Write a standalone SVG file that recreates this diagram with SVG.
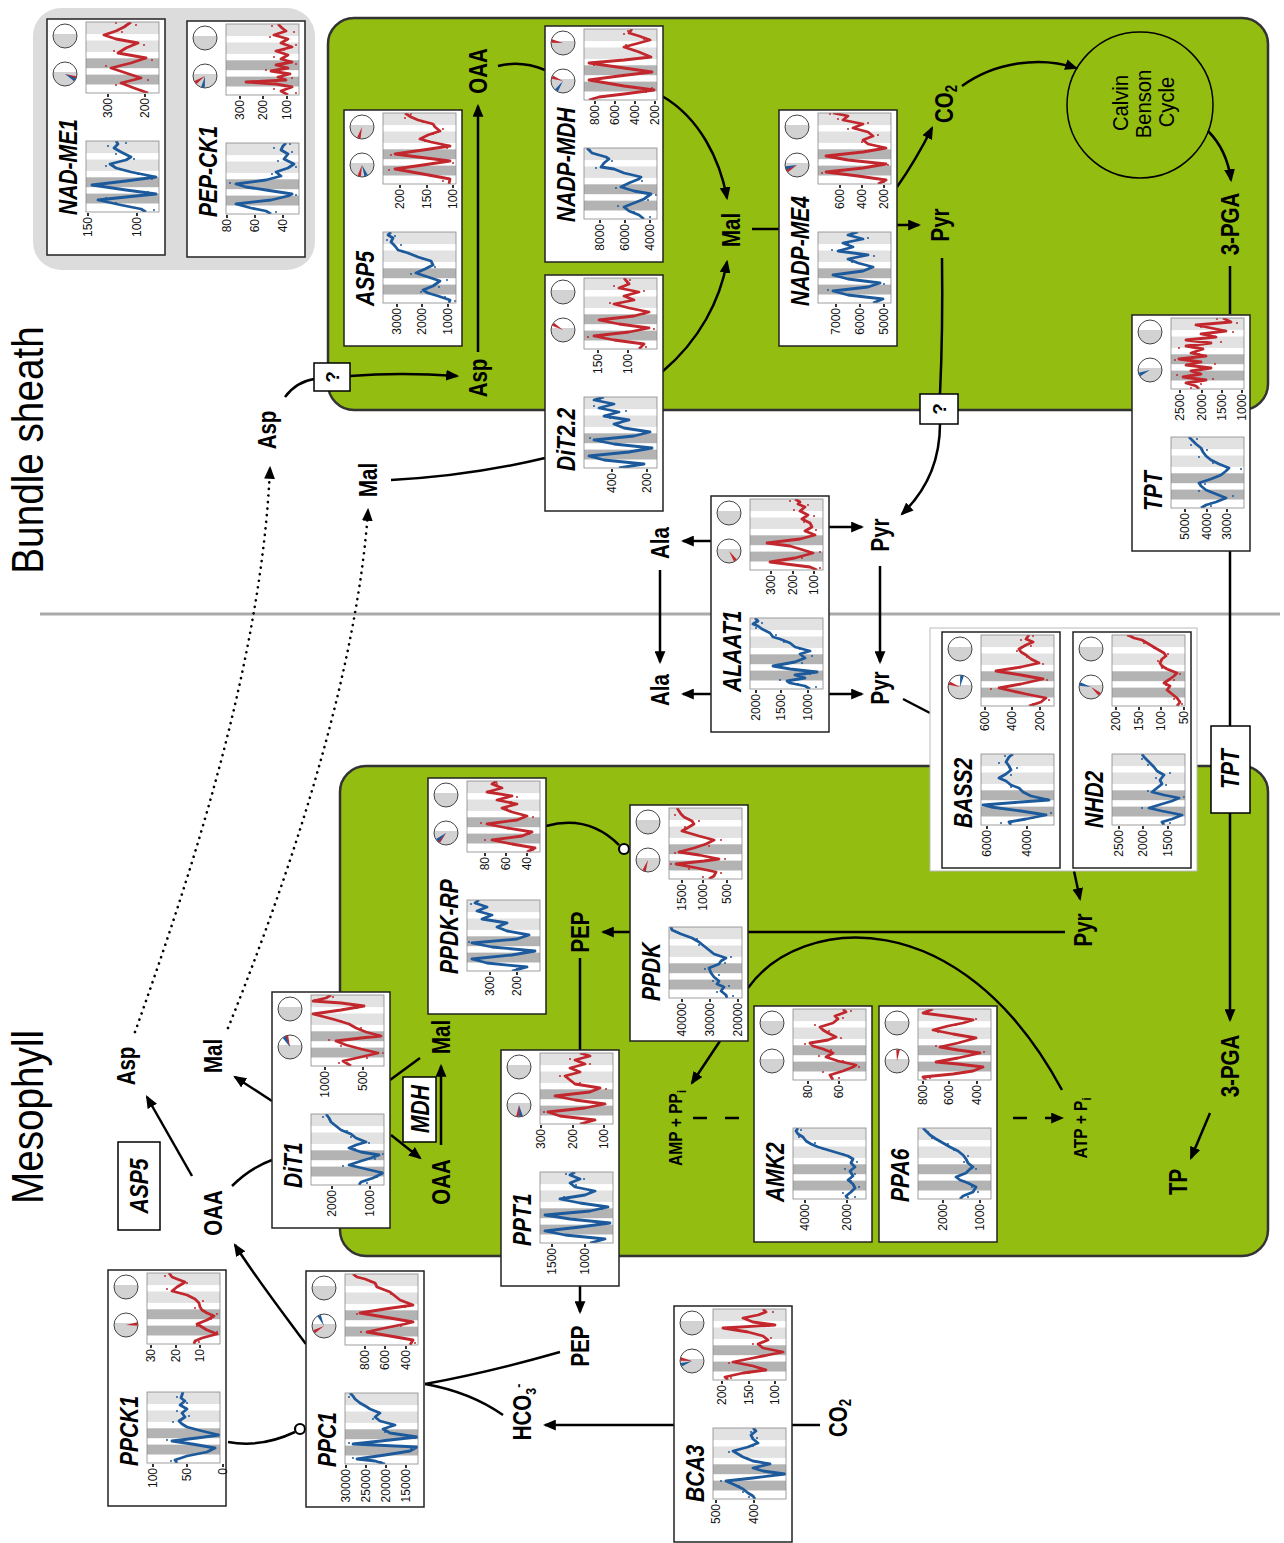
<svg xmlns="http://www.w3.org/2000/svg" xmlns:xlink="http://www.w3.org/1999/xlink" width="1284" height="1543" viewBox="0 0 1284 1543">
<style>
.pb{fill:#fff;stroke:#222;stroke-width:1.5}
.gn{font-family:"Liberation Sans",Arial,Helvetica,sans-serif;font-weight:bold;font-style:italic;font-size:26px}
.gc{font-family:"Liberation Sans",Arial,Helvetica,sans-serif;font-weight:bold;font-style:italic;font-size:26px;text-anchor:middle}
.tk{font-family:"Liberation Sans",Arial,Helvetica,sans-serif;font-size:12px;text-anchor:end;fill:#111}
.tm{stroke:#000;stroke-width:1.6;fill:none}
.cf{fill:none;stroke:#888;stroke-width:0.8}
.rl{fill:none;stroke:#c1272d;stroke-width:2.8;stroke-linejoin:round}
.bl{fill:none;stroke:#1d5a9c;stroke-width:2.8;stroke-linejoin:round}
.rd{fill:none;stroke:#c1272d;stroke-width:2;stroke-linecap:round}
.bd{fill:none;stroke:#1d5a9c;stroke-width:2;stroke-linecap:round}
.nr{fill:#c1272d}
.nb{fill:#1d5a9c}
.m{font-family:"Liberation Sans",Arial,Helvetica,sans-serif;font-weight:bold;font-size:25px;text-anchor:middle}
.s{font-family:"Liberation Sans",Arial,Helvetica,sans-serif;font-weight:bold;font-size:19px;text-anchor:middle}
.cb{font-family:"Liberation Sans",Arial,Helvetica,sans-serif;font-size:22px;text-anchor:middle}
.big{font-family:"Liberation Sans",Arial,Helvetica,sans-serif;font-size:45px;text-anchor:middle}
.c{fill:none;stroke:#000;stroke-width:2.5}
.ca{fill:none;stroke:#000;stroke-width:2.5;marker-end:url(#ah)}
.dt{fill:none;stroke:#000;stroke-width:2.6;stroke-linecap:round;stroke-dasharray:0.1 6.5;marker-end:url(#ah)}
.dsh{fill:none;stroke:#000;stroke-width:2.5;stroke-dasharray:14 18;marker-end:url(#ah)}
.bx{fill:#fff;stroke:#000;stroke-width:1.5}
.inh{fill:#fff;stroke:#000;stroke-width:2.2}
</style>
<defs>
<marker id="ah" viewBox="0 0 12 10" refX="10" refY="5" markerWidth="13" markerHeight="11" markerUnits="userSpaceOnUse" orient="auto"><path d="M0,0L12,5L0,10Z" fill="#000"/></marker>
<clipPath id="cc"><rect width="71" height="73"/></clipPath>
<g id="bg"><rect width="71" height="73" fill="#fff"/><rect x="8.5" width="9.9" height="73" fill="#b3b3b3"/><rect x="24.8" width="9.9" height="73" fill="#b3b3b3"/><rect x="41.1" width="11.4" height="73" fill="#e2e2e2"/><rect x="58.9" width="12.1" height="73" fill="#e2e2e2"/></g>
<g id="pie"><circle r="12" fill="#fff"/><path d="M-11.83,-2A12,12 0 1,0 11.83,-2Z" fill="#d2d2d2"/><circle r="12" fill="none" stroke="#444" stroke-width="1"/></g>
<path id="nd" d="M0,0L11.5,-1.8L11.5,1.8Z"/>
</defs>

<rect width="1284" height="1543" fill="#fff"/>
<g id="areas">
<rect x="33" y="8" width="282" height="262" rx="28" fill="#dcdcdc"/>
<rect x="328" y="18" width="940" height="392" rx="26" fill="#93bd10" stroke="#333" stroke-width="2.5"/>
<rect x="340" y="766" width="928" height="490" rx="26" fill="#93bd10" stroke="#333" stroke-width="2.5"/>
<line x1="40" y1="614" x2="1280" y2="614" stroke="#aaa" stroke-width="3"/>
</g>

<g id="connectors">
<path class="c" d="M498,66 Q521,60 545,70"/>
<path class="ca" d="M662,96 C700,118 720,160 727,198"/>
<path class="ca" d="M478,352 V106"/>
<path class="c" d="M285,397 Q296,382 314,379"/>
<path class="ca" d="M350,376 Q400,372 457,376"/>
<path class="c" d="M391,480 Q470,476 545,458"/>
<path class="ca" d="M662,372 C700,340 720,300 727,262"/>
<path class="c" d="M752,229 H779"/>
<path class="ca" d="M897,187 Q916,160 932,128"/>
<path class="ca" d="M897,225 H919"/>
<path class="ca" d="M962,86 C995,62 1040,56 1076,68"/>
<path class="ca" d="M1208,131 Q1227,150 1231,180"/>
<path class="c" d="M1230,266 V314"/>
<path class="c" d="M1230,551 V727"/>
<path class="ca" d="M1230,813 V1020"/>
<path class="ca" d="M1210,1113 L1191,1158"/>
<path class="c" d="M942,258 Q943,330 940,394"/>
<path class="ca" d="M940,424 C940,462 925,492 902,514"/>
<path class="ca" d="M711,541 H683"/>
<path class="ca" d="M829,527 H862"/>
<path class="ca" d="M660,570 V662"/>
<path class="ca" d="M880,566 V662"/>
<path class="ca" d="M711,694 H683"/>
<path class="ca" d="M829,694 H862"/>
<path class="c" d="M903,699 L930,713"/>
<path class="ca" d="M1074,871 L1080,899"/>
<path class="ca" d="M1065,932 H603"/>
<path class="c" d="M748,988 C800,915 960,900 1062,1090"/>
<path class="ca" d="M720,1041 L692,1083"/>
<path class="dsh" d="M693,1118 H1062"/>
<path class="c" d="M546,826 C575,818 600,826 619,845"/>
<circle class="inh" cx="624" cy="849" r="5"/>
<path class="c" d="M580,958 V1050"/>
<path class="ca" d="M580,1286 V1312"/>
<path class="c" d="M560,1352 Q490,1372 425,1384"/>
<path class="c" d="M503,1415 Q470,1392 425,1384"/>
<path class="c" d="M820,1425 H792"/>
<path class="ca" d="M674,1425 H545"/>
<path class="c" d="M228,1442 C255,1447 278,1440 295,1432"/>
<circle class="inh" cx="300" cy="1429" r="5"/>
<path class="ca" d="M306,1344 C282,1312 256,1278 235,1245"/>
<path class="ca" d="M192,1176 L147,1097"/>
<path class="c" d="M232,1186 Q250,1168 272,1160"/>
<path class="ca" d="M272,1101 L235,1077"/>
<path class="c" d="M390,1080 L420,1058"/>
<path class="ca" d="M391,1135 L420,1158"/>
<path class="ca" d="M441,1145 V1066"/>
<path class="dt" d="M135,1032 C200,850 262,650 270,468"/>
<path class="dt" d="M228,1028 C300,850 358,660 368,510"/>
</g>

<g id="node-nadme1" transform="translate(47,255) rotate(-90)">
<rect class="pb" width="236" height="118"/>
<text class="gn" transform="translate(40,30) scale(.81,1)">NAD-ME1</text>
<g transform="translate(219,18) rotate(90)"><use href="#pie"/></g>
<g transform="translate(181,18) rotate(90)"><use href="#pie"/><use href="#nd" class="nr" transform="rotate(20)"/><use href="#nd" class="nb" transform="rotate(30)"/></g>
<g transform="translate(43,39)"><use href="#bg"/><g clip-path="url(#cc)"><polyline class="bl" points="0,60 3,55 7,35 12,12 15,40 18,70 22,40 27,6 31,40 35,70 40,45 44,30 48,24 52,40 55,45 60,35 64,28 68,32 71,30"/><path class="bd" d="M2,68h0M9,30h0M14,20h0M20,62h0M26,12h0M33,66h0M38,52h0M46,20h0M53,48h0M58,30h0M66,22h0M69,40h0"/></g><rect class="cf" width="71" height="73"/></g>
<g transform="translate(162,39)"><use href="#bg"/><g clip-path="url(#cc)"><polyline class="rl" points="0,62 5,48 10,35 15,55 20,40 25,25 30,45 35,60 40,32 45,40 50,52 54,30 58,18 62,30 66,38 71,45"/><path class="rd" d="M3,55h0M8,30h0M13,62h0M22,34h0M27,20h0M33,66h0M42,28h0M48,58h0M56,24h0M61,36h0M68,50h0M70,30h0"/></g><rect class="cf" width="71" height="73"/></g>
<text class="tk" x="38" y="45">150</text><text class="tk" x="38" y="94">100</text>
<text class="tk" x="157" y="65">300</text><text class="tk" x="157" y="102">200</text>
<path class="tm" d="M39,41h3M39,90h3M158,61h3M158,98h3"/>
</g>

<g id="node-pepck1" transform="translate(187,257) rotate(-90)">
<rect class="pb" width="236" height="118"/>
<text class="gn" transform="translate(40,30) scale(.81,1)">PEP-CK1</text>
<g transform="translate(219,18) rotate(90)"><use href="#pie"/></g>
<g transform="translate(181,18) rotate(90)"><use href="#pie"/><use href="#nd" class="nr" transform="rotate(146)"/><use href="#nd" class="nb" transform="rotate(100)"/></g>
<g transform="translate(43,39)"><use href="#bg"/><g clip-path="url(#cc)"><polyline class="bl" points="0,45 3,40 6,25 10,10 14,45 18,62 20,66 24,40 27,20 30,10 34,40 38,55 42,50 46,62 50,68 55,58 60,62 64,55 68,57 71,60"/><path class="bd" d="M2,50h0M8,18h0M12,30h0M19,70h0M26,28h0M31,4h0M40,46h0M47,70h0M53,52h0M62,66h0M66,48h0M70,64h0"/></g><rect class="cf" width="71" height="73"/></g>
<g transform="translate(162,39)"><use href="#bg"/><g clip-path="url(#cc)"><polyline class="rl" points="0,62 4,55 8,66 11,50 13,20 15,60 18,52 21,64 24,45 27,62 30,50 33,66 36,55 40,62 44,50 48,66 52,55 56,62 60,48 64,60 67,56 71,52"/><path class="rd" d="M2,70h0M6,48h0M12,28h0M17,66h0M25,40h0M31,70h0M38,48h0M45,58h0M50,70h0M58,44h0M63,68h0M69,46h0"/></g><rect class="cf" width="71" height="73"/></g>
<text class="tk" x="38" y="44">80</text><text class="tk" x="38" y="72">60</text><text class="tk" x="38" y="100">40</text>
<text class="tk" x="157" y="57">300</text><text class="tk" x="157" y="80">200</text><text class="tk" x="157" y="104">100</text>
<path class="tm" d="M39,40h3M39,68h3M39,96h3M158,53h3M158,76h3M158,100h3"/>
</g>

<g id="node-asp5" transform="translate(344,346) rotate(-90)">
<rect class="pb" width="236" height="118"/>
<text class="gn" transform="translate(40,30) scale(.81,1)">ASP5</text>
<g transform="translate(219,18) rotate(90)"><use href="#pie"/><use href="#nd" class="nr" transform="rotate(106)"/></g>
<g transform="translate(181,18) rotate(90)"><use href="#pie"/><use href="#nd" class="nr" transform="rotate(104)"/><use href="#nd" class="nb" transform="rotate(69)"/></g>
<g transform="translate(43,39)"><use href="#bg"/><g clip-path="url(#cc)"><polyline class="bl" points="0,66 3,67 7,55 10,45 13,40 17,50 22,57 26,45 30,33 34,42 38,50 42,48 46,35 50,25 53,15 57,12 61,8 65,10 68,5 71,8"/><path class="bd" d="M2,72h0M6,62h0M11,38h0M16,56h0M23,64h0M29,28h0M36,52h0M44,40h0M51,20h0M58,18h0M63,4h0M67,12h0"/></g><rect class="cf" width="71" height="73"/></g>
<g transform="translate(162,39)"><use href="#bg"/><g clip-path="url(#cc)"><polyline class="rl" points="0,66 5,67 10,40 15,12 19,40 23,67 27,35 30,12 34,40 38,67 42,48 45,37 49,45 53,57 57,52 60,50 64,35 67,28 71,22"/><path class="rd" d="M3,60h0M8,48h0M14,6h0M21,70h0M29,8h0M36,64h0M43,42h0M50,50h0M55,60h0M62,40h0M66,22h0M70,28h0"/></g><rect class="cf" width="71" height="73"/></g>
<text class="tk" x="38" y="57">3000</text><text class="tk" x="38" y="82">2000</text><text class="tk" x="38" y="108">1000</text>
<text class="tk" x="157" y="60">200</text><text class="tk" x="157" y="87">150</text><text class="tk" x="157" y="113">100</text>
<path class="tm" d="M39,53h3M39,78h3M39,104h3M158,56h3M158,83h3M158,109h3"/>
</g>

<g id="node-nadpmdh" transform="translate(545,262) rotate(-90)">
<rect class="pb" width="236" height="118"/>
<text class="gn" transform="translate(40,30) scale(.81,1)">NADP-MDH</text>
<g transform="translate(219,18) rotate(90)"><use href="#pie"/><use href="#nd" class="nr" transform="rotate(190)"/></g>
<g transform="translate(181,18) rotate(90)"><use href="#pie"/><use href="#nd" class="nr" transform="rotate(200)"/><use href="#nd" class="nb" transform="rotate(125)"/></g>
<g transform="translate(43,39)"><use href="#bg"/><g clip-path="url(#cc)"><polyline class="bl" points="0,60 4,55 8,45 12,40 16,50 20,60 25,67 28,50 32,37 36,45 40,55 42,57 46,40 50,30 52,17 56,20 60,25 62,22 66,8 71,3"/><path class="bd" d="M2,66h0M7,50h0M13,34h0M19,64h0M24,72h0M31,32h0M38,58h0M45,46h0M51,12h0M58,28h0M64,14h0M69,6h0"/></g><rect class="cf" width="71" height="73"/></g>
<g transform="translate(162,39)"><use href="#bg"/><g clip-path="url(#cc)"><polyline class="rl" points="0,5 3,15 6,40 10,70 14,40 20,5 24,35 28,68 32,40 37,5 40,40 43,67 48,55 53,40 57,55 60,66 64,55 67,45 71,48"/><path class="rd" d="M2,10h0M8,62h0M12,68h0M19,8h0M27,64h0M35,10h0M42,62h0M50,50h0M55,42h0M61,60h0M66,40h0M69,44h0"/></g><rect class="cf" width="71" height="73"/></g>
<text class="tk" x="38" y="59">8000</text><text class="tk" x="38" y="84">6000</text><text class="tk" x="38" y="109">4000</text>
<text class="tk" x="157" y="54">800</text><text class="tk" x="157" y="74">600</text><text class="tk" x="157" y="94">400</text><text class="tk" x="157" y="114">200</text>
<path class="tm" d="M39,55h3M39,80h3M39,105h3M158,50h3M158,70h3M158,90h3M158,110h3"/>
</g>

<g id="node-dit22" transform="translate(545,511) rotate(-90)">
<rect class="pb" width="236" height="118"/>
<text class="gn" transform="translate(40,30) scale(.81,1)">DiT2.2</text>
<g transform="translate(219,18) rotate(90)"><use href="#pie"/></g>
<g transform="translate(181,18) rotate(90)"><use href="#pie"/><use href="#nd" class="nr" transform="rotate(210)"/></g>
<g transform="translate(43,39)"><use href="#bg"/><g clip-path="url(#cc)"><polyline class="bl" points="0,35 4,60 8,20 12,5 16,45 20,68 24,30 28,10 32,50 36,66 40,40 44,30 48,45 52,20 56,35 60,15 64,30 68,10 71,20"/><path class="bd" d="M2,44h0M7,28h0M13,10h0M19,62h0M26,18h0M30,6h0M37,62h0M45,36h0M50,26h0M57,42h0M62,10h0M69,16h0"/></g><rect class="cf" width="71" height="73"/></g>
<g transform="translate(162,39)"><use href="#bg"/><g clip-path="url(#cc)"><polyline class="rl" points="0,55 5,60 9,30 13,10 17,45 21,65 25,35 29,15 33,50 37,65 41,45 45,30 49,50 53,40 57,55 61,35 65,45 71,40"/><path class="rd" d="M2,62h0M8,38h0M12,4h0M20,70h0M28,20h0M35,60h0M40,50h0M46,26h0M52,44h0M58,60h0M63,30h0M69,46h0"/></g><rect class="cf" width="71" height="73"/></g>
<text class="tk" x="38" y="71">400</text><text class="tk" x="38" y="106">200</text>
<text class="tk" x="157" y="57">150</text><text class="tk" x="157" y="87">100</text>
<path class="tm" d="M39,67h3M39,102h3M158,53h3M158,83h3"/>
</g>

<g id="node-nadpme4" transform="translate(779,346) rotate(-90)">
<rect class="pb" width="236" height="118"/>
<text class="gn" transform="translate(40,30) scale(.81,1)">NADP-ME4</text>
<g transform="translate(219,18) rotate(90)"><use href="#pie"/></g>
<g transform="translate(181,18) rotate(90)"><use href="#pie"/><use href="#nd" class="nr" transform="rotate(150)"/><use href="#nd" class="nb" transform="rotate(165)"/></g>
<g transform="translate(43,39)"><use href="#bg"/><g clip-path="url(#cc)"><polyline class="bl" points="0,55 4,65 8,30 12,15 16,50 20,62 24,30 28,15 32,45 36,55 40,40 44,30 48,50 52,20 56,35 60,25 64,45 68,30 71,40"/><path class="bd" d="M2,60h0M7,36h0M13,10h0M19,66h0M27,20h0M34,50h0M41,34h0M47,56h0M53,14h0M59,30h0M65,50h0M70,34h0"/></g><rect class="cf" width="71" height="73"/></g>
<g transform="translate(162,39)"><use href="#bg"/><g clip-path="url(#cc)"><polyline class="rl" points="0,60 4,68 8,40 12,8 16,45 20,68 24,30 28,8 32,45 36,68 40,50 44,45 48,55 52,50 56,35 60,45 64,25 68,30 71,15"/><path class="rd" d="M2,66h0M7,46h0M11,4h0M19,70h0M27,12h0M35,64h0M42,44h0M49,60h0M55,30h0M61,50h0M65,20h0M70,12h0"/></g><rect class="cf" width="71" height="73"/></g>
<text class="tk" x="38" y="61">7000</text><text class="tk" x="38" y="85">6000</text><text class="tk" x="38" y="109">5000</text>
<text class="tk" x="157" y="65">600</text><text class="tk" x="157" y="87">400</text><text class="tk" x="157" y="109">200</text>
<path class="tm" d="M39,57h3M39,81h3M39,105h3M158,61h3M158,83h3M158,105h3"/>
</g>

<g id="node-tpt" transform="translate(1132,551) rotate(-90)">
<rect class="pb" width="236" height="118"/>
<text class="gn" transform="translate(40,30) scale(.81,1)">TPT</text>
<g transform="translate(219,18) rotate(90)"><use href="#pie"/></g>
<g transform="translate(181,18) rotate(90)"><use href="#pie"/><use href="#nd" class="nb" transform="rotate(157)"/></g>
<g transform="translate(43,39)"><use href="#bg"/><g clip-path="url(#cc)"><polyline class="bl" points="0,30 3,35 6,45 10,55 14,45 18,35 22,30 25,28 29,40 33,50 37,55 40,58 44,48 48,40 52,35 56,32 60,30 64,25 67,22 71,18"/><path class="bd" d="M2,40h0M8,50h0M12,62h0M17,28h0M24,34h0M31,46h0M39,70h0M45,42h0M51,28h0M58,36h0M63,20h0M69,26h0"/></g><rect class="cf" width="71" height="73"/></g>
<g transform="translate(162,39)"><use href="#bg"/><g clip-path="url(#cc)"><polyline class="rl" points="0,28 3,25 6,15 9,35 12,12 15,30 18,20 21,40 24,15 27,30 30,8 33,35 36,20 40,32 43,15 46,40 49,15 52,45 55,30 58,55 61,40 64,25 67,60 71,52"/><path class="rd" d="M1,20h0M5,30h0M10,42h0M14,6h0M19,28h0M25,44h0M29,4h0M35,28h0M41,8h0M47,50h0M53,38h0M57,62h0M62,30h0M66,66h0M70,46h0"/></g><rect class="cf" width="71" height="73"/></g>
<text class="tk" x="38" y="57">5000</text><text class="tk" x="38" y="79">4000</text><text class="tk" x="38" y="99">3000</text>
<text class="tk" x="157" y="52">2500</text><text class="tk" x="157" y="74">2000</text><text class="tk" x="157" y="94">1500</text><text class="tk" x="157" y="114">1000</text>
<path class="tm" d="M39,53h3M39,75h3M39,95h3M158,48h3M158,70h3M158,90h3M158,110h3"/>
</g>

<g id="node-alaat1" transform="translate(711,732) rotate(-90)">
<rect class="pb" width="236" height="118"/>
<text class="gn" transform="translate(40,30) scale(.81,1)">ALAAT1</text>
<g transform="translate(219,18) rotate(90)"><use href="#pie"/></g>
<g transform="translate(181,18) rotate(90)"><use href="#pie"/><use href="#nd" class="nr" transform="rotate(56)"/></g>
<g transform="translate(43,39)"><use href="#bg"/><g clip-path="url(#cc)"><polyline class="bl" points="0,60 3,55 6,40 8,37 11,55 14,45 17,67 20,40 23,23 27,45 31,55 35,50 38,60 42,45 46,40 50,30 52,23 56,20 60,12 63,8 65,3 68,8 71,5"/><path class="bd" d="M2,66h0M5,48h0M9,30h0M15,60h0M21,34h0M26,52h0M33,62h0M40,50h0M47,34h0M54,26h0M61,6h0M66,12h0"/></g><rect class="cf" width="71" height="73"/></g>
<g transform="translate(162,39)"><use href="#bg"/><g clip-path="url(#cc)"><polyline class="rl" points="0,67 3,60 8,20 12,45 17,63 21,50 24,40 27,17 31,50 35,65 39,55 43,62 47,60 51,52 55,58 59,50 63,55 66,48 68,50 71,45"/><path class="rd" d="M2,70h0M7,28h0M12,52h0M18,70h0M26,22h0M33,58h0M40,66h0M48,54h0M54,64h0M60,44h0M65,58h0M69,40h0"/></g><rect class="cf" width="71" height="73"/></g>
<text class="tk" x="38" y="49">2000</text><text class="tk" x="38" y="74">1500</text><text class="tk" x="38" y="101">1000</text>
<text class="tk" x="157" y="64">300</text><text class="tk" x="157" y="86">200</text><text class="tk" x="157" y="107">100</text>
<path class="tm" d="M39,45h3M39,70h3M39,97h3M158,60h3M158,82h3M158,103h3"/>
</g>

<g id="node-bass2-nhd2">
<rect x="930" y="628" width="267" height="243" fill="#fff" stroke="#bbb" stroke-width="1"/>
<g id="node-bass2" transform="translate(942,868) rotate(-90)">
<rect class="pb" width="236" height="118"/>
<text class="gn" transform="translate(40,30) scale(.81,1)">BASS2</text>
<g transform="translate(219,18) rotate(90)"><use href="#pie"/></g>
<g transform="translate(181,18) rotate(90)"><use href="#pie"/><use href="#nd" class="nr" transform="rotate(200)"/><use href="#nd" class="nb" transform="rotate(-80)"/></g>
<g transform="translate(43,39)"><use href="#bg"/><g clip-path="url(#cc)"><polyline class="bl" points="0,30 3,28 6,45 10,65 14,40 18,10 20,2 23,40 25,68 29,50 33,42 37,38 40,30 44,25 47,18 51,25 55,30 59,28 63,25 68,28 71,32"/><path class="bd" d="M2,20h0M7,52h0M12,70h0M19,8h0M24,60h0M31,46h0M38,30h0M45,22h0M50,30h0M57,36h0M62,18h0M69,24h0"/></g><rect class="cf" width="71" height="73"/></g>
<g transform="translate(162,39)"><use href="#bg"/><g clip-path="url(#cc)"><polyline class="rl" points="0,48 4,60 8,65 12,45 18,18 22,40 27,62 31,40 35,15 39,40 43,58 47,50 51,45 54,40 57,38 61,45 64,52 67,45 71,48"/><path class="rd" d="M2,52h0M6,68h0M13,40h0M17,10h0M26,66h0M34,20h0M42,62h0M49,46h0M55,36h0M60,50h0M66,40h0M70,52h0"/></g><rect class="cf" width="71" height="73"/></g>
<text class="tk" x="38" y="49">6000</text><text class="tk" x="38" y="89">4000</text>
<text class="tk" x="157" y="47">600</text><text class="tk" x="157" y="74">400</text><text class="tk" x="157" y="102">200</text>
<path class="tm" d="M39,45h3M39,85h3M158,43h3M158,70h3M158,98h3"/>
</g>
<g id="node-nhd2" transform="translate(1073,868) rotate(-90)">
<rect class="pb" width="236" height="118"/>
<text class="gn" transform="translate(40,30) scale(.81,1)">NHD2</text>
<g transform="translate(219,18) rotate(90)"><use href="#pie"/></g>
<g transform="translate(181,18) rotate(90)"><use href="#pie"/><use href="#nd" class="nr" transform="rotate(40)"/><use href="#nd" class="nb" transform="rotate(195)"/></g>
<g transform="translate(43,39)"><use href="#bg"/><g clip-path="url(#cc)"><polyline class="bl" points="0,52 3,50 6,60 10,70 14,50 17,37 21,50 24,60 27,67 30,52 33,40 37,45 41,50 45,48 50,52 54,45 58,42 62,38 65,35 68,32 71,30"/><path class="bd" d="M2,58h0M8,66h0M12,62h0M17,30h0M23,56h0M28,72h0M34,36h0M40,54h0M47,44h0M52,58h0M60,36h0M66,30h0"/></g><rect class="cf" width="71" height="73"/></g>
<g transform="translate(162,39)"><use href="#bg"/><g clip-path="url(#cc)"><polyline class="rl" points="0,65 4,68 8,65 12,60 16,55 20,58 23,52 27,58 30,62 33,65 37,55 40,50 43,48 47,50 50,54 53,52 57,45 60,40 63,35 66,30 68,22 70,18 71,15"/><path class="rd" d="M2,70h0M7,62h0M14,58h0M21,54h0M26,62h0M32,68h0M38,50h0M45,46h0M52,56h0M58,42h0M63,32h0M69,20h0"/></g><rect class="cf" width="71" height="73"/></g>
<text class="tk" x="38" y="50">2500</text><text class="tk" x="38" y="74">2000</text><text class="tk" x="38" y="99">1500</text>
<text class="tk" x="157" y="47">200</text><text class="tk" x="157" y="70">150</text><text class="tk" x="157" y="92">100</text><text class="tk" x="157" y="115">50</text>
<path class="tm" d="M39,46h3M39,70h3M39,95h3M158,43h3M158,66h3M158,88h3M158,111h3"/>
</g>
</g>

<g id="node-ppdkrp" transform="translate(428,1014) rotate(-90)">
<rect class="pb" width="236" height="118"/>
<text class="gn" transform="translate(40,30) scale(.81,1)">PPDK-RP</text>
<g transform="translate(219,18) rotate(90)"><use href="#pie"/></g>
<g transform="translate(181,18) rotate(90)"><use href="#pie"/><use href="#nd" class="nr" transform="rotate(130)"/><use href="#nd" class="nb" transform="rotate(140)"/></g>
<g transform="translate(43,39)"><use href="#bg"/><g clip-path="url(#cc)"><polyline class="bl" points="0,45 4,60 8,20 12,5 16,45 20,68 24,25 28,5 32,50 36,62 40,40 44,30 48,40 52,15 56,25 60,10 64,20 68,8 71,12"/><path class="bd" d="M2,50h0M7,28h0M13,10h0M19,66h0M25,20h0M29,2h0M35,58h0M42,36h0M49,34h0M55,22h0M61,14h0M67,4h0"/></g><rect class="cf" width="71" height="73"/></g>
<g transform="translate(162,39)"><use href="#bg"/><g clip-path="url(#cc)"><polyline class="rl" points="0,60 4,68 8,45 12,25 16,55 20,65 24,40 28,20 32,50 36,60 40,45 44,35 48,50 52,30 56,45 60,20 64,35 68,25 71,30"/><path class="rd" d="M2,66h0M7,50h0M12,18h0M18,62h0M25,34h0M29,14h0M35,66h0M43,40h0M50,44h0M55,50h0M61,24h0M68,30h0"/></g><rect class="cf" width="71" height="73"/></g>
<text class="tk" x="38" y="66">300</text><text class="tk" x="38" y="93">200</text>
<text class="tk" x="157" y="61">80</text><text class="tk" x="157" y="82">60</text><text class="tk" x="157" y="103">40</text>
<path class="tm" d="M39,62h3M39,89h3M158,57h3M158,78h3M158,99h3"/>
</g>

<g id="node-ppdk" transform="translate(630,1041) rotate(-90)">
<rect class="pb" width="236" height="118"/>
<text class="gn" transform="translate(40,30) scale(.81,1)">PPDK</text>
<g transform="translate(219,18) rotate(90)"><use href="#pie"/></g>
<g transform="translate(181,18) rotate(90)"><use href="#pie"/><use href="#nd" class="nr" transform="rotate(110)"/></g>
<g transform="translate(43,39)"><use href="#bg"/><g clip-path="url(#cc)"><polyline class="bl" points="0,58 3,57 7,52 11,55 14,48 17,50 21,45 25,42 30,40 34,50 37,52 40,57 44,45 48,40 52,35 56,30 60,23 64,12 68,3 71,2"/><path class="bd" d="M2,64h0M6,48h0M12,60h0M17,44h0M23,50h0M29,36h0M35,56h0M41,62h0M46,42h0M53,30h0M59,28h0M66,8h0"/></g><rect class="cf" width="71" height="73"/></g>
<g transform="translate(162,39)"><use href="#bg"/><g clip-path="url(#cc)"><polyline class="rl" points="0,40 3,45 7,47 11,28 15,7 18,35 20,50 24,30 27,10 31,25 35,37 39,45 43,30 48,13 52,20 55,25 58,23 62,15 65,12 68,10 71,8"/><path class="rd" d="M2,34h0M6,52h0M10,20h0M15,2h0M20,56h0M26,6h0M33,40h0M39,52h0M45,24h0M52,16h0M58,30h0M64,6h0"/></g><rect class="cf" width="71" height="73"/></g>
<text class="tk" x="38" y="56">40000</text><text class="tk" x="38" y="84">30000</text><text class="tk" x="38" y="112">20000</text>
<text class="tk" x="157" y="56">1500</text><text class="tk" x="157" y="77">1000</text><text class="tk" x="157" y="101">500</text>
<path class="tm" d="M39,52h3M39,80h3M39,108h3M158,52h3M158,73h3M158,97h3"/>
</g>

<g id="node-dit1" transform="translate(272,1228) rotate(-90)">
<rect class="pb" width="236" height="118"/>
<text class="gn" transform="translate(40,30) scale(.81,1)">DiT1</text>
<g transform="translate(219,18) rotate(90)"><use href="#pie"/></g>
<g transform="translate(181,18) rotate(90)"><use href="#pie"/><use href="#nd" class="nr" transform="rotate(-108)"/><use href="#nd" class="nb" transform="rotate(-120)"/></g>
<g transform="translate(43,39)"><use href="#bg"/><g clip-path="url(#cc)"><polyline class="bl" points="0,48 3,50 7,62 12,72 16,55 20,38 24,50 27,60 30,68 33,50 37,38 40,45 43,55 47,45 51,40 55,30 59,25 63,20 67,18 71,15"/><path class="bd" d="M2,56h0M8,66h0M13,70h0M19,32h0M26,64h0M31,72h0M36,44h0M42,58h0M48,40h0M54,36h0M61,22h0M68,12h0"/></g><rect class="cf" width="71" height="73"/></g>
<g transform="translate(162,39)"><use href="#bg"/><g clip-path="url(#cc)"><polyline class="rl" points="0,40 5,32 9,50 13,67 17,50 21,35 25,25 28,50 30,70 34,55 38,45 42,38 46,25 50,10 52,2 56,30 60,53 63,30 65,2 68,15 71,20"/><path class="rd" d="M3,28h0M8,56h0M13,72h0M20,30h0M26,18h0M31,66h0M38,50h0M45,30h0M51,6h0M58,46h0M64,10h0M69,22h0"/></g><rect class="cf" width="71" height="73"/></g>
<text class="tk" x="38" y="64">2000</text><text class="tk" x="38" y="102">1000</text>
<text class="tk" x="157" y="57">1000</text><text class="tk" x="157" y="95">500</text>
<path class="tm" d="M39,60h3M39,98h3M158,53h3M158,91h3"/>
</g>

<g id="node-ppt1" transform="translate(501,1286) rotate(-90)">
<rect class="pb" width="236" height="118"/>
<text class="gn" transform="translate(40,30) scale(.81,1)">PPT1</text>
<g transform="translate(219,18) rotate(90)"><use href="#pie"/></g>
<g transform="translate(181,18) rotate(90)"><use href="#pie"/><use href="#nd" class="nr" transform="rotate(95)"/><use href="#nd" class="nb" transform="rotate(80)"/></g>
<g transform="translate(43,39)"><use href="#bg"/><g clip-path="url(#cc)"><polyline class="bl" points="0,50 4,65 8,25 12,5 16,40 20,70 24,30 28,5 32,50 36,68 40,40 44,20 48,45 52,55 56,35 60,30 64,40 68,30 71,35"/><path class="bd" d="M2,58h0M7,30h0M13,10h0M19,64h0M27,8h0M34,62h0M41,34h0M46,24h0M52,50h0M58,36h0M64,44h0M69,26h0"/></g><rect class="cf" width="71" height="73"/></g>
<g transform="translate(162,39)"><use href="#bg"/><g clip-path="url(#cc)"><polyline class="rl" points="0,40 4,55 8,20 12,8 16,45 20,65 24,35 28,15 32,50 36,60 40,35 44,30 48,25 52,40 56,30 60,45 64,35 68,50 71,40"/><path class="rd" d="M2,46h0M7,26h0M12,4h0M19,60h0M27,20h0M35,66h0M41,40h0M48,20h0M54,36h0M60,50h0M65,30h0M70,44h0"/></g><rect class="cf" width="71" height="73"/></g>
<text class="tk" x="38" y="55">1500</text><text class="tk" x="38" y="88">1000</text>
<text class="tk" x="157" y="44">300</text><text class="tk" x="157" y="76">200</text><text class="tk" x="157" y="107">100</text>
<path class="tm" d="M39,51h3M39,84h3M158,40h3M158,72h3M158,103h3"/>
</g>

<g id="node-amk2" transform="translate(754,1242) rotate(-90)">
<rect class="pb" width="236" height="118"/>
<text class="gn" transform="translate(40,30) scale(.81,1)">AMK2</text>
<g transform="translate(219,18) rotate(90)"><use href="#pie"/></g>
<g transform="translate(181,18) rotate(90)"><use href="#pie"/></g>
<g transform="translate(43,39)"><use href="#bg"/><g clip-path="url(#cc)"><polyline class="bl" points="0,55 3,53 7,58 11,62 15,60 19,55 23,60 28,57 32,62 36,58 40,60 43,55 46,45 49,35 52,25 55,18 58,13 62,10 65,5 68,3 71,5"/><path class="bd" d="M2,62h0M6,50h0M12,66h0M18,58h0M25,62h0M30,52h0M37,64h0M45,50h0M50,30h0M56,22h0M62,6h0M69,8h0"/></g><rect class="cf" width="71" height="73"/></g>
<g transform="translate(162,39)"><use href="#bg"/><g clip-path="url(#cc)"><polyline class="rl" points="0,40 5,37 9,50 13,60 15,63 19,45 23,33 27,40 31,30 34,20 37,17 40,35 43,43 47,35 50,30 53,27 57,40 61,45 64,42 68,53 71,50"/><path class="rd" d="M2,46h0M8,30h0M13,66h0M19,50h0M24,26h0M30,38h0M36,12h0M42,48h0M49,36h0M55,22h0M62,50h0M69,58h0"/></g><rect class="cf" width="71" height="73"/></g>
<text class="tk" x="38" y="55">4000</text><text class="tk" x="38" y="97">2000</text>
<text class="tk" x="157" y="58">80</text><text class="tk" x="157" y="89">60</text>
<path class="tm" d="M39,51h3M39,93h3M158,54h3M158,85h3"/>
</g>

<g id="node-ppa6" transform="translate(879,1242) rotate(-90)">
<rect class="pb" width="236" height="118"/>
<text class="gn" transform="translate(40,30) scale(.81,1)">PPA6</text>
<g transform="translate(219,18) rotate(90)"><use href="#pie"/></g>
<g transform="translate(181,18) rotate(90)"><use href="#pie"/><use href="#nd" class="nr" transform="rotate(-85)"/></g>
<g transform="translate(43,39)"><use href="#bg"/><g clip-path="url(#cc)"><polyline class="bl" points="0,42 3,45 7,55 12,58 16,50 19,42 22,38 26,48 30,52 32,55 36,50 40,48 44,45 48,40 52,32 56,25 60,18 64,12 68,8 71,5"/><path class="bd" d="M2,50h0M7,60h0M12,54h0M18,46h0M24,42h0M30,58h0M37,46h0M43,50h0M49,36h0M55,30h0M61,14h0M67,10h0"/></g><rect class="cf" width="71" height="73"/></g>
<g transform="translate(162,39)"><use href="#bg"/><g clip-path="url(#cc)"><polyline class="rl" points="0,8 3,5 6,35 9,55 13,65 16,40 18,18 22,40 27,62 30,40 33,22 37,40 42,58 46,35 50,15 54,30 57,45 60,55 63,35 67,5 71,15"/><path class="rd" d="M2,12h0M7,42h0M12,62h0M17,24h0M24,50h0M28,66h0M34,18h0M41,52h0M48,20h0M55,38h0M61,58h0M67,10h0"/></g><rect class="cf" width="71" height="73"/></g>
<text class="tk" x="38" y="68">2000</text><text class="tk" x="38" y="105">1000</text>
<text class="tk" x="157" y="48">800</text><text class="tk" x="157" y="74">600</text><text class="tk" x="157" y="102">400</text>
<path class="tm" d="M39,64h3M39,101h3M158,44h3M158,70h3M158,98h3"/>
</g>

<g id="node-ppck1" transform="translate(108,1506) rotate(-90)">
<rect class="pb" width="236" height="118"/>
<text class="gn" transform="translate(40,30) scale(.81,1)">PPCK1</text>
<g transform="translate(219,18) rotate(90)"><use href="#pie"/></g>
<g transform="translate(181,18) rotate(90)"><use href="#pie"/><use href="#nd" class="nr" transform="rotate(-5)"/></g>
<g transform="translate(43,39)"><use href="#bg"/><g clip-path="url(#cc)"><polyline class="bl" points="0,30 3,28 7,40 11,60 15,68 19,45 22,25 25,50 28,72 32,55 36,40 39,35 42,32 46,38 50,35 54,40 58,33 62,38 65,34 68,35 71,36"/><path class="bd" d="M2,24h0M8,46h0M13,64h0M20,38h0M23,20h0M29,66h0M35,44h0M41,26h0M47,42h0M52,30h0M60,40h0M66,30h0"/></g><rect class="cf" width="71" height="73"/></g>
<g transform="translate(162,39)"><use href="#bg"/><g clip-path="url(#cc)"><polyline class="rl" points="0,47 3,48 6,55 10,70 14,60 17,55 20,50 24,60 28,67 31,60 34,55 37,53 41,52 45,48 49,40 53,25 57,30 60,35 62,38 65,30 67,25 71,22"/><path class="rd" d="M2,52h0M8,62h0M12,70h0M18,50h0M25,64h0M30,70h0M36,48h0M43,56h0M50,36h0M55,20h0M61,40h0M68,18h0"/></g><rect class="cf" width="71" height="73"/></g>
<text class="tk" x="38" y="49">100</text><text class="tk" x="38" y="83">50</text><text class="tk" x="38" y="119">0</text>
<text class="tk" x="157" y="47">30</text><text class="tk" x="157" y="72">20</text><text class="tk" x="157" y="96">10</text>
<path class="tm" d="M39,45h3M39,79h3M39,115h3M158,43h3M158,68h3M158,92h3"/>
</g>

<g id="node-ppc1" transform="translate(306,1507) rotate(-90)">
<rect class="pb" width="236" height="118"/>
<text class="gn" transform="translate(40,30) scale(.81,1)">PPC1</text>
<g transform="translate(219,18) rotate(90)"><use href="#pie"/></g>
<g transform="translate(181,18) rotate(90)"><use href="#pie"/><use href="#nd" class="nr" transform="rotate(150)"/><use href="#nd" class="nb" transform="rotate(-115)"/></g>
<g transform="translate(43,39)"><use href="#bg"/><g clip-path="url(#cc)"><polyline class="bl" points="0,40 3,30 5,12 9,40 13,65 17,72 20,8 24,45 27,72 31,45 35,38 39,50 43,35 47,30 51,35 55,25 57,22 61,15 65,10 68,8 71,5"/><path class="bd" d="M2,36h0M6,8h0M11,56h0M16,66h0M21,4h0M26,70h0M32,40h0M38,46h0M45,28h0M52,32h0M59,18h0M67,4h0"/></g><rect class="cf" width="71" height="73"/></g>
<g transform="translate(162,39)"><use href="#bg"/><g clip-path="url(#cc)"><polyline class="rl" points="0,65 5,68 9,45 13,22 17,40 21,60 23,68 27,45 32,15 36,40 40,68 45,55 49,50 53,45 58,32 62,30 66,20 68,12 71,8"/><path class="rd" d="M2,70h0M8,50h0M13,16h0M19,56h0M24,66h0M31,12h0M38,60h0M44,58h0M51,46h0M57,34h0M63,26h0M69,10h0"/></g><rect class="cf" width="71" height="73"/></g>
<text class="tk" x="38" y="44">30000</text><text class="tk" x="38" y="64">25000</text><text class="tk" x="38" y="84">20000</text><text class="tk" x="38" y="104">15000</text>
<text class="tk" x="157" y="63">800</text><text class="tk" x="157" y="83">600</text><text class="tk" x="157" y="104">400</text>
<path class="tm" d="M39,40h3M39,60h3M39,80h3M39,100h3M158,59h3M158,79h3M158,100h3"/>
</g>

<g id="node-bca3" transform="translate(674,1542) rotate(-90)">
<rect class="pb" width="236" height="118"/>
<text class="gn" transform="translate(40,30) scale(.81,1)">BCA3</text>
<g transform="translate(219,18) rotate(90)"><use href="#pie"/></g>
<g transform="translate(181,18) rotate(90)"><use href="#pie"/><use href="#nd" class="nr" transform="rotate(190)"/><use href="#nd" class="nb" transform="rotate(160)"/></g>
<g transform="translate(43,39)"><use href="#bg"/><g clip-path="url(#cc)"><polyline class="bl" points="0,42 3,40 6,35 10,30 14,22 18,13 21,40 25,72 28,50 31,40 35,57 38,40 42,30 45,25 48,20 52,35 56,45 60,40 64,38 68,43 71,40"/><path class="bd" d="M2,36h0M7,30h0M13,26h0M18,8h0M24,64h0M29,46h0M35,52h0M41,34h0M47,16h0M53,40h0M61,44h0M67,38h0"/></g><rect class="cf" width="71" height="73"/></g>
<g transform="translate(162,39)"><use href="#bg"/><g clip-path="url(#cc)"><polyline class="rl" points="0,15 3,12 7,30 10,53 14,40 18,20 22,40 25,55 28,70 32,50 36,45 40,55 44,50 48,35 52,10 55,62 58,40 62,30 65,45 68,53 71,50"/><path class="rd" d="M2,18h0M7,36h0M12,48h0M17,16h0M24,50h0M29,66h0M36,40h0M42,58h0M50,22h0M54,56h0M61,34h0M68,60h0"/></g><rect class="cf" width="71" height="73"/></g>
<text class="tk" x="38" y="46">500</text><text class="tk" x="38" y="84">400</text>
<text class="tk" x="157" y="52">200</text><text class="tk" x="157" y="79">150</text><text class="tk" x="157" y="105">100</text>
<path class="tm" d="M39,42h3M39,80h3M158,48h3M158,75h3M158,101h3"/>
</g>

<g id="node-calvin">
<circle cx="1140" cy="105" r="73" fill="none" stroke="#000" stroke-width="1.5"/>
<text class="cb" transform="translate(1128,103) rotate(-90) scale(.92,1)">Calvin</text>
<text class="cb" transform="translate(1151,104) rotate(-90) scale(.92,1)">Benson</text>
<text class="cb" transform="translate(1174,102) rotate(-90) scale(.92,1)">Cycle</text>
</g>

<g id="node-q1"><rect class="bx" x="314" y="363" width="36" height="28"/><text class="s" transform="translate(332,377) rotate(-90)" y="7">?</text></g>
<g id="node-q2"><rect class="bx" x="920" y="394" width="38" height="30"/><text class="s" transform="translate(939,409) rotate(-90)" y="7">?</text></g>
<g id="node-tptbox"><rect class="bx" x="1211" y="726" width="39" height="87"/><text class="gc" transform="translate(1230,769) rotate(-90) scale(.81,1)" y="9">TPT</text></g>
<g id="node-mdh"><rect class="bx" x="403" y="1077" width="33" height="65"/><text class="gc" transform="translate(420,1109) rotate(-90) scale(.81,1)" y="9">MDH</text></g>
<g id="node-asp5box"><rect class="bx" x="118" y="1142" width="42" height="88"/><text class="gc" transform="translate(139,1186) rotate(-90) scale(.81,1)" y="9">ASP5</text></g>

<g id="labels">
<text class="big" transform="translate(43,450) rotate(-90) scale(.86,1)">Bundle sheath</text>
<text class="big" transform="translate(43,1117) rotate(-90) scale(.86,1)">Mesophyll</text>
<text class="m" transform="translate(478,71) rotate(-90) scale(.82,1)" y="9">OAA</text>
<text class="m" transform="translate(731,230) rotate(-90) scale(.82,1)" y="9">Mal</text>
<text class="m" transform="translate(944,104) rotate(-90) scale(.82,1)" y="9">CO<tspan font-size="16" dy="4">2</tspan></text>
<text class="m" transform="translate(940,225) rotate(-90) scale(.82,1)" y="9">Pyr</text>
<text class="m" transform="translate(1230,224) rotate(-90) scale(.82,1)" y="9">3-PGA</text>
<text class="m" transform="translate(478,378) rotate(-90) scale(.82,1)" y="9">Asp</text>
<text class="m" transform="translate(267,430) rotate(-90) scale(.82,1)" y="9">Asp</text>
<text class="m" transform="translate(368,480) rotate(-90) scale(.82,1)" y="9">Mal</text>
<text class="m" transform="translate(660,543) rotate(-90) scale(.82,1)" y="9">Ala</text>
<text class="m" transform="translate(880,535) rotate(-90) scale(.82,1)" y="9">Pyr</text>
<text class="m" transform="translate(660,690) rotate(-90) scale(.82,1)" y="9">Ala</text>
<text class="m" transform="translate(880,688) rotate(-90) scale(.82,1)" y="9">Pyr</text>
<text class="m" transform="translate(1083,930) rotate(-90) scale(.82,1)" y="9">Pyr</text>
<text class="m" transform="translate(580,932) rotate(-90) scale(.82,1)" y="9">PEP</text>
<text class="m" transform="translate(441,1037) rotate(-90) scale(.82,1)" y="9">Mal</text>
<text class="m" transform="translate(441,1182) rotate(-90) scale(.82,1)" y="9">OAA</text>
<text class="m" transform="translate(126,1066) rotate(-90) scale(.82,1)" y="9">Asp</text>
<text class="m" transform="translate(213,1056) rotate(-90) scale(.82,1)" y="9">Mal</text>
<text class="m" transform="translate(213,1213) rotate(-90) scale(.82,1)" y="9">OAA</text>
<text class="s" transform="translate(675,1128) rotate(-90) scale(.82,1)" y="7">AMP + PP<tspan font-size="13" dy="4">i</tspan></text>
<text class="s" transform="translate(1080,1128) rotate(-90) scale(.82,1)" y="7">ATP + P<tspan font-size="13" dy="4">i</tspan></text>
<text class="m" transform="translate(1230,1066) rotate(-90) scale(.82,1)" y="9">3-PGA</text>
<text class="m" transform="translate(1178,1182) rotate(-90) scale(.82,1)" y="9">TP</text>
<text class="m" transform="translate(580,1346) rotate(-90) scale(.82,1)" y="9">PEP</text>
<text class="m" transform="translate(522,1412) rotate(-90) scale(.82,1)" y="9">HCO<tspan font-size="15" dy="5">3</tspan><tspan font-size="15" dy="-13">-</tspan></text>
<text class="m" transform="translate(838,1418) rotate(-90) scale(.82,1)" y="9">CO<tspan font-size="16" dy="4">2</tspan></text>
</g>
</svg>
